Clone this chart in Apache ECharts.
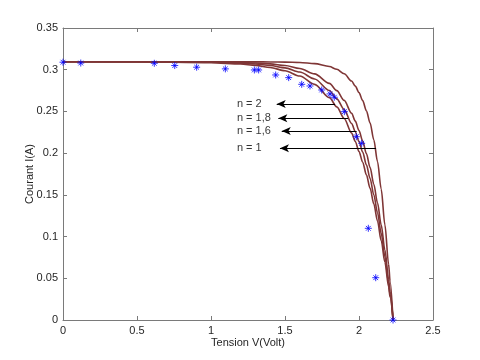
<!DOCTYPE html>
<html>
<head>
<meta charset="utf-8">
<script src="https://cdn.jsdelivr.net/npm/echarts@6/dist/echarts.min.js"></script>
<style>html,body{margin:0;padding:0;background:#fff}#c{width:480px;height:360px}</style>
</head>
<body>
<div id="c"></div>
<script>
// Measured points (blue stars)
const vMeas = [0, 0.12, 0.617, 0.755, 0.903, 1.097, 1.293, 1.322, 1.437, 1.525, 1.613, 1.669, 1.748, 1.804, 1.833, 1.901, 1.982, 2.018, 2.063, 2.113, 2.23];
const iMeas = [0.309, 0.308, 0.3077, 0.305, 0.303, 0.301, 0.2997, 0.2997, 0.2937, 0.2905, 0.2825, 0.2805, 0.2757, 0.271, 0.267, 0.2497, 0.2197, 0.2118, 0.1099, 0.0507, 0];

// Simulated curves
const vCurve = [0, 0.5, 1.0, 1.2, 1.3, 1.4, 1.5, 1.6, 1.7, 1.8, 1.85, 1.9, 1.95, 1.975, 2.0, 2.025, 2.05, 2.075, 2.1, 2.125, 2.15, 2.175, 2.2, 2.21, 2.23];
const iN1  = [0.3095, 0.3095, 0.3095, 0.3095, 0.3094, 0.3093, 0.3091, 0.3087, 0.3073, 0.3038, 0.3005, 0.2951, 0.2864, 0.2803, 0.2726, 0.2629, 0.2508, 0.2360, 0.2160, 0.1900, 0.1570, 0.1140, 0.0670, 0.0465, 0];
const iN16 = [0.3095, 0.3095, 0.3092, 0.3087, 0.3080, 0.3070, 0.3050, 0.3014, 0.2950, 0.2836, 0.2749, 0.2632, 0.2478, 0.2384, 0.2270, 0.2145, 0.1995, 0.1827, 0.1628, 0.1404, 0.1140, 0.0840, 0.0490, 0.0337, 0];
const iN18 = [0.3095, 0.3095, 0.3089, 0.3079, 0.3068, 0.3050, 0.3022, 0.2972, 0.2889, 0.2751, 0.2651, 0.2522, 0.2355, 0.2257, 0.2138, 0.2012, 0.1860, 0.1696, 0.1500, 0.1286, 0.1038, 0.0760, 0.0440, 0.0301, 0];
const iN2  = [0.3095, 0.3094, 0.3084, 0.3068, 0.3052, 0.3027, 0.2987, 0.2924, 0.2824, 0.2665, 0.2555, 0.2415, 0.2240, 0.2140, 0.2020, 0.1891, 0.1740, 0.1579, 0.1392, 0.1187, 0.0952, 0.0693, 0.0398, 0.0273, 0];

// Annotations
const annLabels = ['n = 2', 'n = 1,8', 'n = 1,6', 'n = 1'];
const annI = [0.2589, 0.2418, 0.2265, 0.2058];
const annTipV = [1.444, 1.455, 1.478, 1.466];
const annEndV = [1.838, 1.926, 1.984, 2.115];
const annTextV = 1.175;

const xTicks = [0, 0.5, 1, 1.5, 2, 2.5];
const yTicks = [0, 0.05, 0.1, 0.15, 0.2, 0.25, 0.3, 0.35];

const zip = (a, b) => a.map((v, i) => [v, b[i]]);
const curveColor = '#7f3636';
const axisCol = '#7a7a7a';
const txtCol = '#262626';
const font = 'Liberation Sans, Arial, sans-serif';

const curve = (name, v, i) => ({
  name, type: 'line', data: zip(v, i), showSymbol: false, symbol: 'none',
  smooth: 0.3, smoothMonotone: 'x',
  lineStyle: { color: curveColor, width: 1.6 }, z: 2, silent: true
});

const asterisk = 'path://M5,0L5,10M0,5L10,5M1.6,1.6L8.4,8.4M8.4,1.6L1.6,8.4';

const chart = echarts.init(document.getElementById('c'), null, { renderer: 'canvas' });
chart.setOption({
  animation: false,
  backgroundColor: '#fff',
  textStyle: { fontFamily: font },
  grid: { left: 63, right: 47, top: 28, bottom: 40, containLabel: false },
  xAxis: [{
    type: 'value', min: xTicks[0], max: xTicks[xTicks.length - 1], interval: 0.5,
    name: 'Tension V(Volt)', nameLocation: 'middle', nameGap: 17, nameMoveOverlap: false,
    nameTextStyle: { color: txtCol, fontSize: 11, fontFamily: font },
    axisLine: { show: true, onZero: false, lineStyle: { color: axisCol, width: 1 } },
    axisTick: { show: true, inside: true, length: 4, lineStyle: { color: axisCol } },
    axisLabel: { color: txtCol, fontSize: 11, fontFamily: font, margin: 5 },
    splitLine: { show: false }
  }, {
    type: 'value', position: 'top', min: 0, max: 2.5, interval: 0.5,
    axisLine: { show: true, onZero: false, lineStyle: { color: axisCol, width: 1 } },
    axisTick: { show: true, inside: true, length: 4, lineStyle: { color: axisCol } },
    axisLabel: { show: false }, splitLine: { show: false }
  }],
  yAxis: [{
    type: 'value', min: yTicks[0], max: yTicks[yTicks.length - 1], interval: 0.05,
    name: 'Courant I(A)', nameLocation: 'middle', nameGap: 28, nameRotate: 90, nameMoveOverlap: false,
    nameTextStyle: { color: txtCol, fontSize: 11, fontFamily: font },
    axisLine: { show: true, onZero: false, lineStyle: { color: axisCol, width: 1 } },
    axisTick: { show: true, inside: true, length: 4, lineStyle: { color: axisCol } },
    axisLabel: { color: txtCol, fontSize: 11, fontFamily: font, margin: 5 },
    splitLine: { show: false }
  }, {
    type: 'value', position: 'right', min: 0, max: 0.35, interval: 0.05,
    axisLine: { show: true, onZero: false, lineStyle: { color: axisCol, width: 1 } },
    axisTick: { show: true, inside: true, length: 4, lineStyle: { color: axisCol } },
    axisLabel: { show: false }, splitLine: { show: false }
  }],
  series: [
    curve('n=1', vCurve, iN1),
    curve('n=1.6', vCurve, iN16),
    curve('n=1.8', vCurve, iN18),
    curve('n=2', vCurve, iN2),
    {
      name: 'mesure', type: 'scatter', data: zip(vMeas, iMeas),
      symbol: asterisk, symbolSize: 7,
      itemStyle: { color: 'none', borderColor: '#0000ff', borderWidth: 1 },
      z: 5, silent: true
    },
    {
      name: 'arrows', type: 'line', data: [], silent: true,
      markLine: {
        silent: true, symbol: ['arrow', 'none'], symbolSize: [6, 9], animation: false,
        lineStyle: { color: '#000', width: 1, type: 'solid' },
        label: { show: false },
        data: annLabels.map((t, k) => [{ coord: [annTipV[k], annI[k]] }, { coord: [annEndV[k], annI[k]] }])
      }
    },
    {
      name: 'labels', type: 'scatter', symbolSize: 0, silent: true,
      data: annLabels.map((t, k) => ({ name: t, value: [annTextV, annI[k]] })),
      label: {
        show: true, position: 'right', distance: 0, formatter: p => p.name,
        color: '#000', fontSize: 11, fontFamily: font, align: 'left', verticalAlign: 'middle'
      }
    }
  ]
});
</script>
</body>
</html>
